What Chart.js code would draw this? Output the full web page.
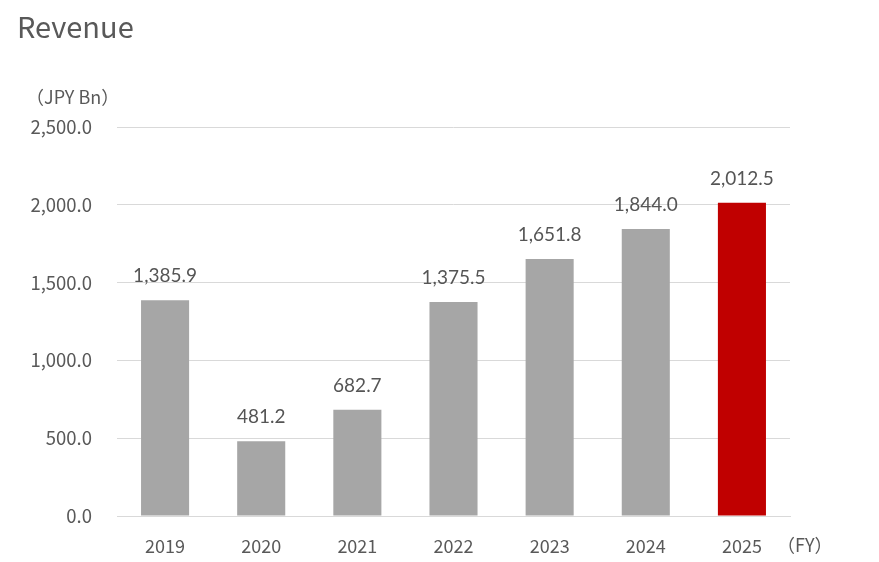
<!doctype html>
<html>
  <head>
    <meta charset="utf-8">
    <title>Revenue</title>
    <style>
      html, body {
	  margin: 0;
	  padding: 0;
	  background: #fff;
      }
      #wrap {
	  width: 879px;
	  height: 562px;
	  position: relative;
      }
    </style>
    <script src="https://cdn.jsdelivr.net/npm/chart.js@4/dist/chart.umd.min.js"></script>
  </head>
  <body>
    <div id="wrap"><canvas id="revenueChart"></canvas></div>
  </body>
  <script>
    const years = ["2019", "2020", "2021", "2022", "2023", "2024", "2025"];
    const revenue = [1385.9, 481.2, 682.7, 1375.5, 1651.8, 1844.0, 2012.5];
    const barColors = ["#a6a6a6", "#a6a6a6", "#a6a6a6", "#a6a6a6", "#a6a6a6", "#a6a6a6", "#c00000"];
    const yTicks = [0, 500, 1000, 1500, 2000, 2500];

    const FONT = "'Noto Sans CJK JP', 'Noto Sans', sans-serif";

    function fmt(v) {
	return v.toLocaleString("en-US", {minimumFractionDigits: 1, maximumFractionDigits: 1});
    }

    // value labels above the bars plus the free text around the plot
    const extras = {
	id: "extras",
	afterDatasetsDraw(chart) {
	    const ctx = chart.ctx;
	    const meta = chart.getDatasetMeta(0);
	    ctx.save();
	    ctx.fillStyle = "#555555";
	    ctx.font = "19px Lato, sans-serif";
	    ctx.textAlign = "center";
	    ctx.textBaseline = "alphabetic";
	    meta.data.forEach((bar, i) => {
		ctx.fillText(fmt(revenue[i]), bar.x, bar.y - 18);
	    });
	    ctx.fillStyle = "#595959";
	    ctx.textAlign = "left";
	    ctx.textBaseline = "middle";
	    ctx.font = "29px " + FONT;
	    ctx.fillText("Revenue", 17, 27);
	    ctx.font = "18px " + FONT;
	    ctx.fillText("（JPY Bn）", 26, 97);
	    ctx.fillText("（FY）", 777, 545);
	    ctx.restore();
	}
    };

    const ctx = document.getElementById("revenueChart");
    new Chart(ctx, {
	type: "bar",
	data: {
	    labels: years,
	    datasets: [{
		data: revenue,
		backgroundColor: barColors,
		borderWidth: 0,
		barPercentage: 0.5,
		categoryPercentage: 1.0,
	    }]
	},
	options: {
	    responsive: true,
	    maintainAspectRatio: false,
	    animation: false,
	    layout: {
		padding: {left: 0, right: 89, top: 127, bottom: 0}
	    },
	    plugins: {
		legend: {display: false},
		title: {display: false},
		tooltip: {enabled: false}
	    },
	    scales: {
		x: {
		    grid: {display: false, drawTicks: false},
		    border: {display: true, color: "#d9d9d9", width: 1},
		    ticks: {
			color: "#595959",
			font: {family: FONT, size: 18},
			padding: 19
		    },
		    afterFit(scale) { scale.height = 46; }
		},
		y: {
		    min: 0,
		    max: 2500,
		    afterBuildTicks(scale) {
			scale.ticks = yTicks.map(v => ({value: v}));
		    },
		    grid: {color: "#d9d9d9", drawTicks: false},
		    border: {display: false},
		    ticks: {
			color: "#595959",
			font: {family: FONT, size: 18.5},
			padding: 25,
			callback: v => fmt(v)
		    },
		    afterFit(scale) { scale.width = 117; }
		}
	    }
	},
	plugins: [extras]
    });
  </script>
</html>
